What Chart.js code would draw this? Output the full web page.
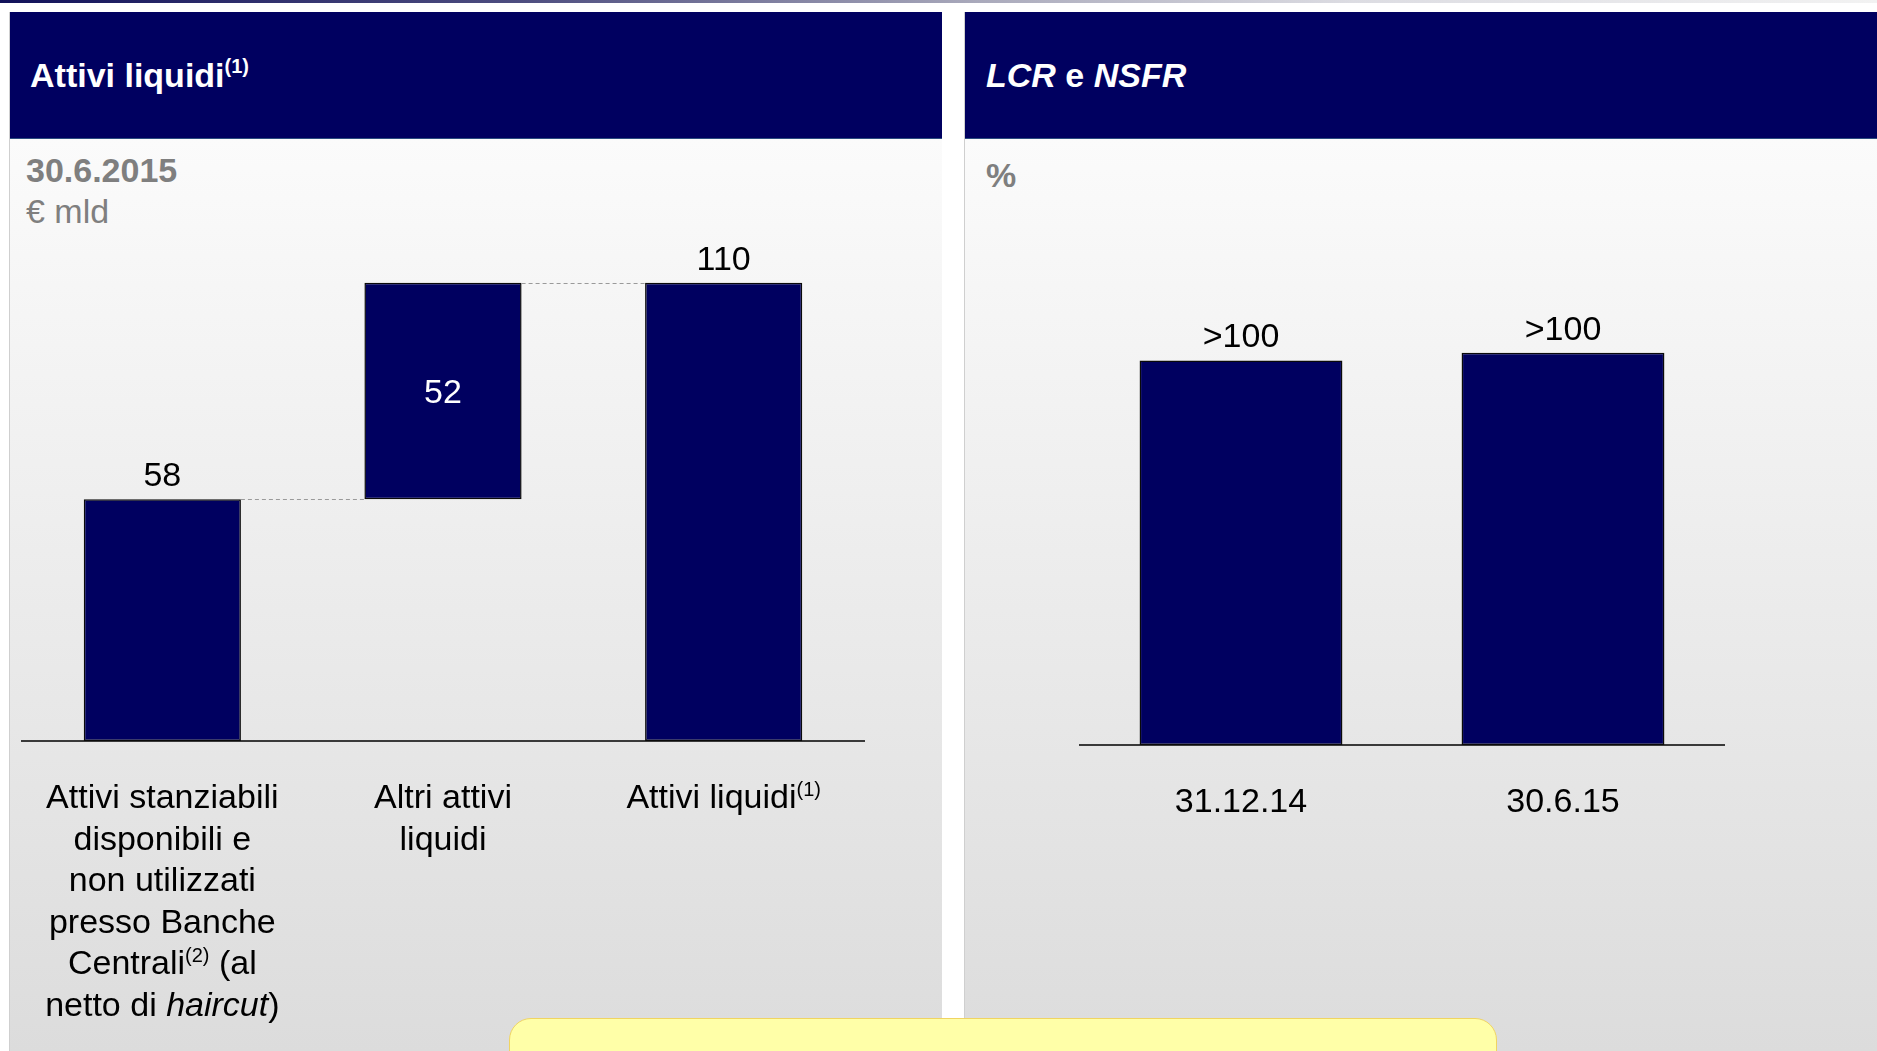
<!DOCTYPE html>
<html><head><meta charset="utf-8">
<script src="https://cdn.jsdelivr.net/npm/chart.js@4.4.1/dist/chart.umd.min.js"></script>
<style>
html,body{margin:0;padding:0;width:1877px;height:1051px;overflow:hidden;background:#fff;font-family:"Liberation Sans",Arial,sans-serif;}
.strip{position:absolute;left:0;top:0;width:1877px;height:3px;background:linear-gradient(to right,#12125a 0%,#4e4e80 28%,#a9a9bb 52%,#dcdce2 72%,#f2f2f2 100%);}
.panel{position:absolute;top:12px;height:1039px;box-sizing:border-box;border-left:1px solid #cfcfcf;background:linear-gradient(to bottom,#fcfcfc 0px,#fbfbfb 127px,#dcdcdc 1039px);}
.head{position:absolute;left:0;top:0;right:0;height:127px;background:#000060;border-bottom:1px solid #2b4c80;box-sizing:border-box;}
.t{position:absolute;font-size:34px;line-height:34px;white-space:nowrap;}
.title{color:#fff;font-weight:bold;}
.sub{color:#7f7f7f;}
sup{font-size:20px;line-height:0;position:relative;top:-2px;}
.cw{position:absolute;top:0;height:1051px;}
.note{position:absolute;left:509px;top:1018px;width:988px;height:80px;background:#ffffa8;border:1.5px solid #f0d462;border-radius:22px;box-sizing:border-box;z-index:5;}
</style>
</head><body>
<div class="strip"></div>
<div class="panel" style="left:9px;width:933px;"><div class="head"></div></div>
<div class="panel" style="left:964px;width:913px;"><div class="head"></div></div>

<div class="t title" style="left:30px;top:58px;">Attivi liquidi<sup>(1)</sup></div>
<div class="t title" style="left:986px;top:58px;"><i>LCR</i> e <i>NSFR</i></div>
<div class="t sub" style="left:26px;top:153px;font-weight:bold;">30.6.2015</div>
<div class="t sub" style="left:26px;top:194px;">€ mld</div>
<div class="t sub" style="left:986px;top:158px;font-weight:bold;">%</div>

<div class="cw" style="left:0;width:943px;"><canvas id="c1"></canvas></div>
<div class="cw" style="left:943px;width:934px;"><canvas id="c2"></canvas></div>
<div class="note"></div>

<script>
// ---- Data ----
const liqCategories = [
  ["Attivi stanziabili","disponibili e","non utilizzati","presso Banche","Centrali(2) (al","netto di haircut)"],
  ["Altri attivi","liquidi"],
  ["Attivi liquidi(1)"]
];
const liqValues = [58, 52, 110];
const liqIsTotal = [false, false, true];
const liqValueLabels = ["58", "52", "110"];

const ratioCategories = ["31.12.14", "30.6.15"];
const ratioValues = [100, 102];          // bar heights
const ratioValueLabels = [">100", ">100"];

const italicWords = ["haircut"];

// ---- Helpers ----
const FONT = '"Liberation Sans", Arial, sans-serif';
const NAVY = '#000060';

function buildWaterfall(vals, totals){
  let run = 0; const out = [];
  vals.forEach((v,i)=>{
    if (totals[i]) { out.push([0, v]); run = v; }
    else { out.push([run, run + v]); run += v; }
  });
  return out;
}

function segs(line){
  const re = new RegExp('(\\(\\d\\)|' + italicWords.join('|') + ')');
  return line.split(re).filter(p => p.length).map(p => ({
    t: p, sup: /^\(\d\)$/.test(p), it: italicWords.includes(p)
  }));
}
function drawRich(ctx, line, cx, base, size, color){
  const parts = segs(line);
  const fontOf = s => (s.it ? 'italic ' : '') + (s.sup ? Math.round(size*0.6) : size) + 'px ' + FONT;
  let total = 0;
  parts.forEach(s => { ctx.font = fontOf(s); s.w = ctx.measureText(s.t).width; total += s.w; });
  let x = cx - total/2;
  ctx.fillStyle = color; ctx.textAlign = 'left'; ctx.textBaseline = 'alphabetic';
  parts.forEach(s => {
    ctx.font = fontOf(s);
    ctx.fillText(s.t, x, s.sup ? base - size*0.36 : base);
    x += s.w;
  });
}

const annot = {
  id: 'annot',
  afterDatasetsDraw(chart, args, opts){
    const ctx = chart.ctx;
    const meta = chart.getDatasetMeta(0);
    const xs = chart.scales.x, ys = chart.scales.y;
    ctx.save();
    // connectors
    if (opts.connectors){
      ctx.strokeStyle = '#9a9a9a'; ctx.lineWidth = 1; ctx.setLineDash([4,3]);
      const raw = chart.data.datasets[0].data;
      for (let i=0;i<meta.data.length-1;i++){
        const a = meta.data[i], b = meta.data[i+1];
        const y = Math.round(ys.getPixelForValue(raw[i][1])) + 0.5;
        ctx.beginPath();
        ctx.moveTo(a.x + a.width/2, y);
        ctx.lineTo(b.x - b.width/2, y);
        ctx.stroke();
      }
      ctx.setLineDash([]);
    }
    // value labels
    meta.data.forEach((bar,i)=>{
      const inside = opts.inside && opts.inside[i];
      if (inside){
        const mid = (bar.y + bar.base)/2;
        drawRich(ctx, opts.labels[i], bar.x, mid + 34*0.36, 34, '#ffffff');
      } else {
        drawRich(ctx, opts.labels[i], bar.x, bar.y - 13, 34, '#000000');
      }
    });
    // category labels
    chart.data.labels.forEach((lab,i)=>{
      const lines = Array.isArray(lab) ? lab : [lab];
      const cx = xs.getPixelForTick(i);
      lines.forEach((ln,j)=>{
        drawRich(ctx, ln, cx, xs.bottom + 67 + j*41.5, 34, '#000000');
      });
    });
    ctx.restore();
  }
};

function makeChart(id, labels, data, pct, yMax, padding, annotOpts){
  return new Chart(document.getElementById(id), {
    type: 'bar',
    data: { labels: labels, datasets: [{
      data: data, backgroundColor: NAVY, borderColor: '#0a0a0a', borderWidth: 1.5,
      borderSkipped: false, barPercentage: pct, categoryPercentage: 1
    }]},
    options: {
      responsive: true, maintainAspectRatio: false, animation: false,
      layout: { padding: padding },
      plugins: { legend: {display:false}, tooltip: {enabled:false}, annot: annotOpts },
      scales: {
        x: { grid: {display:false, drawTicks:false}, ticks: {display:false},
             border: {display:true, color:'#3a3a3a', width:2} },
        y: { display:false, min:0, max:yMax }
      }
    },
    plugins: [annot]
  });
}

makeChart('c1', liqCategories, buildWaterfall(liqValues, liqIsTotal), 0.56, 120,
  {left:22, right:79, top:241, bottom:310},
  {labels: liqValueLabels, inside: [false,true,false], connectors: true});

makeChart('c2', ratioCategories, ratioValues, 0.63, 130,
  {left:137, right:153, top:245, bottom:306},
  {labels: ratioValueLabels, inside: [false,false], connectors: false});
</script>
</body></html>
